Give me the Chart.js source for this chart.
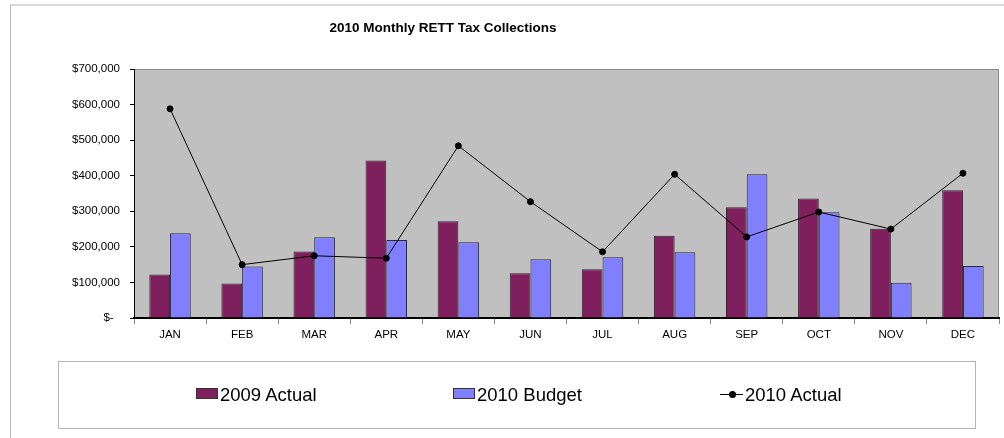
<!DOCTYPE html>
<html>
<head>
<meta charset="utf-8">
<script src="https://cdn.jsdelivr.net/npm/chart.js@4"></script>
<style>
  body { margin: 0; background: #fff; font-family: "Liberation Sans", Arial, sans-serif; }
  #wrap { position: relative; width: 1004px; height: 438px; overflow: hidden; }
  #frame { position: absolute; left: 10px; top: 4px; width: 1100px; height: 500px;
           border-top: 2px solid #d9d9d9; border-left: 1px solid #b8b8b8; }
  canvas { position: absolute; left: 0; top: 0; }
  #title { position: absolute; left: 243px; top: 20px; width: 400px; text-align: center;
           font-weight: bold; font-size: 13.5px; line-height: 16px; color: #000; }
  #legend { position: absolute; left: 58px; top: 361px; width: 916px; height: 66px;
            border: 1px solid #b4b4b4; }
  .item { position: absolute; font-size: 18.5px; line-height: 20px; color: #000; white-space: nowrap; }
  .swatch { position: absolute; width: 20px; height: 9px; border: 1px solid #333; }
</style>
</head>
<body>
<div id="wrap">
  <div id="frame"></div>
  <canvas id="rettChart" width="1004" height="438"></canvas>
  <div id="title">2010 Monthly RETT Tax Collections</div>
  <div id="legend"></div>
</div>
<script>
const months = ["JAN", "FEB", "MAR", "APR", "MAY", "JUN", "JUL", "AUG", "SEP", "OCT", "NOV", "DEC"];
const actual2009 = [122000, 97000, 187000, 443000, 272000, 126000, 137000, 231000, 311000, 336000, 251000, 359000];
const budget2010 = [238000, 145000, 227000, 219000, 213000, 165000, 171000, 185000, 404000, 297000, 99000, 146000];
const actual2010 = [588000, 150000, 175000, 168000, 484000, 327000, 186000, 404000, 228000, 298000, 250000, 407000];
const yTicks = [0, 100000, 200000, 300000, 400000, 500000, 600000, 700000];

// grey plot area with thin border
const plotBg = {
  id: "plotBg",
  beforeDraw(chart) {
    const { ctx, chartArea: a } = chart;
    ctx.save();
    ctx.fillStyle = "#c0c0c0";
    ctx.fillRect(a.left, a.top, a.right - a.left, a.bottom - a.top);
    ctx.strokeStyle = "#8a8a8a";
    ctx.lineWidth = 1;
    ctx.strokeRect(a.left + 0.5, a.top + 0.5, a.right - a.left - 1, a.bottom - a.top);
    ctx.restore();
  },
};

const ctx = document.getElementById("rettChart").getContext("2d");
const chart = new Chart(ctx, {
  type: "bar",
  data: {
    labels: months,
    datasets: [
      {
        label: "2009 Actual",
        data: actual2009,
        backgroundColor: "#801f5e",
        borderColor: "#2a2a2a",
        borderWidth: 1,
        order: 1,
      },
      {
        label: "2010 Budget",
        data: budget2010,
        backgroundColor: "#8080ff",
        borderColor: "#2a2a2a",
        borderWidth: 1,
        order: 1,
      },
      {
        type: "line",
        label: "2010 Actual",
        data: actual2010,
        borderColor: "#000",
        borderWidth: 1,
        pointRadius: 3,
        pointBackgroundColor: "#000",
        pointBorderColor: "#000",
        tension: 0,
        order: 0,
      },
    ],
  },
  options: {
    responsive: false,
    animation: false,
    datasets: { bar: { categoryPercentage: 0.575, barPercentage: 1 } },
    layout: { padding: { left: 0, top: 69, right: 5, bottom: 90 } },
    plugins: { legend: { display: false }, title: { display: false }, tooltip: { enabled: false } },
    scales: {
      x: {
        afterFit: (s) => { s.height = 30; },
        grid: { display: true, drawOnChartArea: false, drawTicks: true, tickLength: 6, tickColor: "#8a8a8a", offset: true },
        border: { color: "#000", width: 2 },
        ticks: { color: "#000", padding: 4, font: { family: "Liberation Sans", size: 11.5 } },
      },
      y: {
        min: 0,
        max: 700000,
        afterFit: (s) => { s.width = 134; },
        afterBuildTicks: (s) => { s.ticks = yTicks.map((v) => ({ value: v })); },
        grid: { display: true, drawOnChartArea: false, drawTicks: true, tickLength: 4, tickColor: "#000" },
        border: { color: "#000", width: 1 },
        ticks: {
          color: "#000",
          padding: 10,
          font: { family: "Liberation Sans", size: 11.5 },
          callback: (v) => (v === 0 ? "$-  " : "$" + v.toLocaleString("en-US")),
        },
      },
    },
  },
  plugins: [plotBg],
});

// legend built from the datasets
const legend = document.getElementById("legend");
const itemX = [137, 394, 661];
chart.data.datasets.forEach((ds, i) => {
  const x = itemX[i];
  if (ds.type === "line") {
    const line = document.createElement("div");
    line.style.cssText = `position:absolute;left:${x}px;top:32px;width:23px;height:1px;background:${ds.borderColor}`;
    const dot = document.createElement("div");
    dot.style.cssText = `position:absolute;left:${x + 9}px;top:29px;width:7px;height:7px;border-radius:50%;background:${ds.pointBackgroundColor}`;
    legend.appendChild(line);
    legend.appendChild(dot);
  } else {
    const sw = document.createElement("div");
    sw.className = "swatch";
    sw.style.left = x + "px";
    sw.style.top = "26px";
    sw.style.background = ds.backgroundColor;
    legend.appendChild(sw);
  }
  const t = document.createElement("span");
  t.className = "item";
  t.textContent = ds.label;
  t.style.left = x + (ds.type === "line" ? 25 : 24) + "px";
  t.style.top = "23px";
  legend.appendChild(t);
});
</script>
</body>
</html>
